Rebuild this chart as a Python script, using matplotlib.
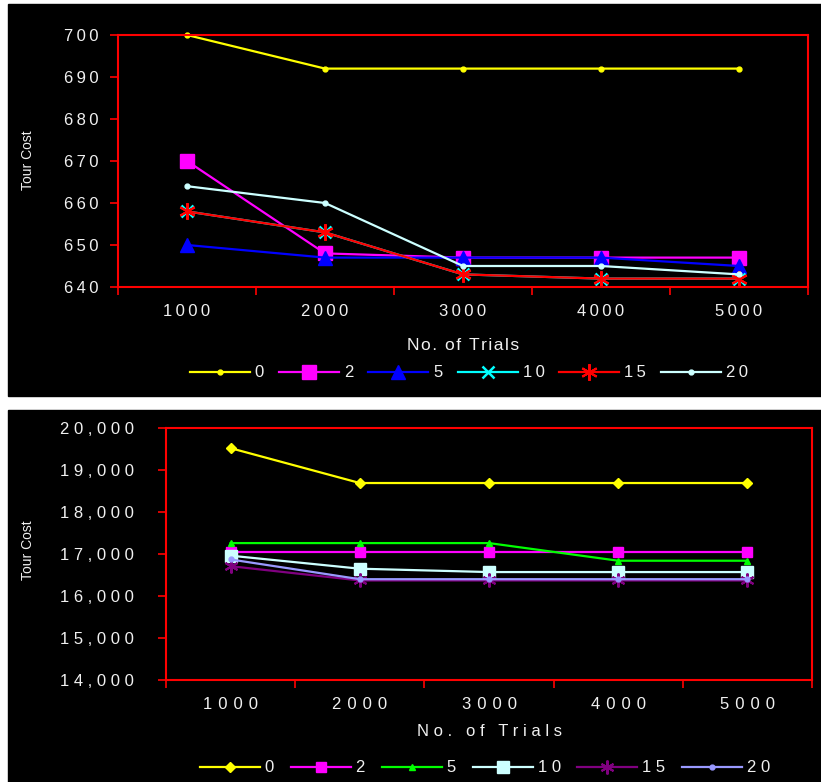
import matplotlib
matplotlib.use("Agg")
import matplotlib.pyplot as plt
from matplotlib.patches import Rectangle
from matplotlib.ticker import FixedLocator, FuncFormatter

plt.rcParams['font.family'] = ['Liberation Sans', 'DejaVu Sans']

trials = ["1000", "2000", "3000", "4000", "5000"]
series_names = ["0", "2", "5", "10", "15", "20"]

# top chart: small instance
top_cost = {
    "0": [700, 692, 692, 692, 692],
    "2": [670, 648, 647, 647, 647],
    "5": [650, 647, 647, 647, 645],
    "10": [658, 653, 643, 642, 642],
    "15": [658, 653, 643, 642, 642],
    "20": [664, 660, 645, 645, 643],
}
top_yticks = [640, 650, 660, 670, 680, 690, 700]

# bottom chart: large instance
bottom_cost = {
    "0": [19520, 18690, 18690, 18690, 18690],
    "2": [17050, 17050, 17050, 17050, 17050],
    "5": [17260, 17260, 17260, 16840, 16840],
    "10": [16960, 16650, 16570, 16570, 16570],
    "15": [16710, 16370, 16370, 16370, 16370],
    "20": [16870, 16400, 16400, 16400, 16400],
}
bottom_yticks = [14000, 15000, 16000, 17000, 18000, 19000, 20000]

top_style = {
    "0": dict(color="#FFFF00", marker="o", ms=3.5),
    "2": dict(color="#FF00FF", marker="s", ms=10),
    "5": dict(color="#0000FF", marker="^", ms=10),
    "10": dict(color="#00FFFF", marker="x", ms=9, mew=1.8),
    "15": dict(color="#FF0000", marker=(6, 2, 0), ms=12, mew=1.5),
    "20": dict(color="#CCFFFF", marker="o", ms=3.5),
}
bottom_style = {
    "0": dict(color="#FFFF00", marker="D", ms=5),
    "2": dict(color="#FF00FF", marker="s", ms=7),
    "5": dict(color="#00FF00", marker="^", ms=4),
    "10": dict(color="#CCFFFF", marker="s", ms=9),
    "15": dict(color="#800080", marker=(6, 2, 0), ms=10, mew=1.5),
    "20": dict(color="#9999FF", marker="o", ms=3.5),
}

W, H = 821, 782
fig = plt.figure(figsize=(W / 100, H / 100), dpi=100, facecolor="white")

# black panels behind each chart
fig.patches.append(Rectangle((8 / W, 1 - 396 / H), 813 / W, 392 / H,
                             transform=fig.transFigure, color="black", zorder=-10))
fig.patches.append(Rectangle((8 / W, 0), 813 / W, 372 / H,
                             transform=fig.transFigure, color="black", zorder=-10))

txt = "#F0F0F0"


def spaced(s, sep):
    return sep.join(s)


def setup(ax, yticks, ylabel_fmt, ysep, xsep, ypad):
    ax.set_facecolor("black")
    for sp in ax.spines.values():
        sp.set_color("#FF0000")
        sp.set_linewidth(1.5)
    ax.set_xlim(0.5, 5.5)
    ax.set_ylim(yticks[0], yticks[-1])
    ax.set_yticks(yticks)
    ax.yaxis.set_major_formatter(FuncFormatter(lambda v, p: spaced(ylabel_fmt(v), ysep)))
    ax.set_xticks(range(1, 6))
    ax.set_xticklabels([spaced(t, xsep) for t in trials])
    ax.xaxis.set_minor_locator(FixedLocator([0.5 + i for i in range(6)]))
    ax.tick_params(axis="x", which="major", length=0, pad=12, colors=txt, labelsize=12)
    ax.tick_params(axis="x", which="minor", length=6, width=1.2, color="#FF0000", direction="out")
    ax.tick_params(axis="y", length=6, width=1.2, color="#FF0000", direction="out",
                   labelcolor=txt, labelsize=12, pad=ypad)


# ---- top chart ----
ax1 = fig.add_axes([118 / W, 1 - 287 / H, 690 / W, 252 / H])
ax1.set_zorder(2)
for name in series_names:
    st = top_style[name]
    ax1.plot(range(1, 6), top_cost[name], lw=1.6, label=spaced(name, "\u2009"),
             clip_on=False, **st)
setup(ax1, top_yticks, lambda v: f"{v:.0f}", "\u2009", "\u2009", 8)
fig.text(463 / W, 1 - 346 / H, spaced("No. of Trials", "\u200a"), color=txt,
         fontsize=12.5, ha="center", va="center")
fig.text(28 / W, 1 - 160 / H, "Tour Cost", color=txt, fontsize=10,
         rotation=90, ha="center", va="center")
leg1 = fig.legend(*ax1.get_legend_handles_labels(), loc="center",
                  bbox_to_anchor=(469 / W, 1 - 373 / H), ncol=6, frameon=False,
                  handlelength=3.6, handletextpad=0.3, columnspacing=0.9,
                  fontsize=12, labelcolor=txt)

# ---- bottom chart ----
ax2 = fig.add_axes([166 / W, 1 - 680 / H, 646 / W, 252 / H])
ax2.set_zorder(2)
for name in series_names:
    st = bottom_style[name]
    ax2.plot(range(1, 6), bottom_cost[name], lw=1.6, label=spaced(name, " "),
             clip_on=False, **st)
setup(ax2, bottom_yticks, lambda v: f"{v:,.0f}", " ", " \u200a", 17)
fig.text(489 / W, 1 - 731 / H, spaced("No. of Trials", " "), color=txt,
         fontsize=12, ha="center", va="center")
fig.text(28 / W, 1 - 550 / H, "Tour Cost", color=txt, fontsize=10,
         rotation=90, ha="center", va="center")
leg2 = fig.legend(*ax2.get_legend_handles_labels(), loc="center",
                  bbox_to_anchor=(485 / W, 1 - 768 / H), ncol=6, frameon=False,
                  handlelength=3.6, handletextpad=0.3, columnspacing=1.0,
                  fontsize=12, labelcolor=txt)

fig.savefig("out.png", dpi=100, facecolor="white")
